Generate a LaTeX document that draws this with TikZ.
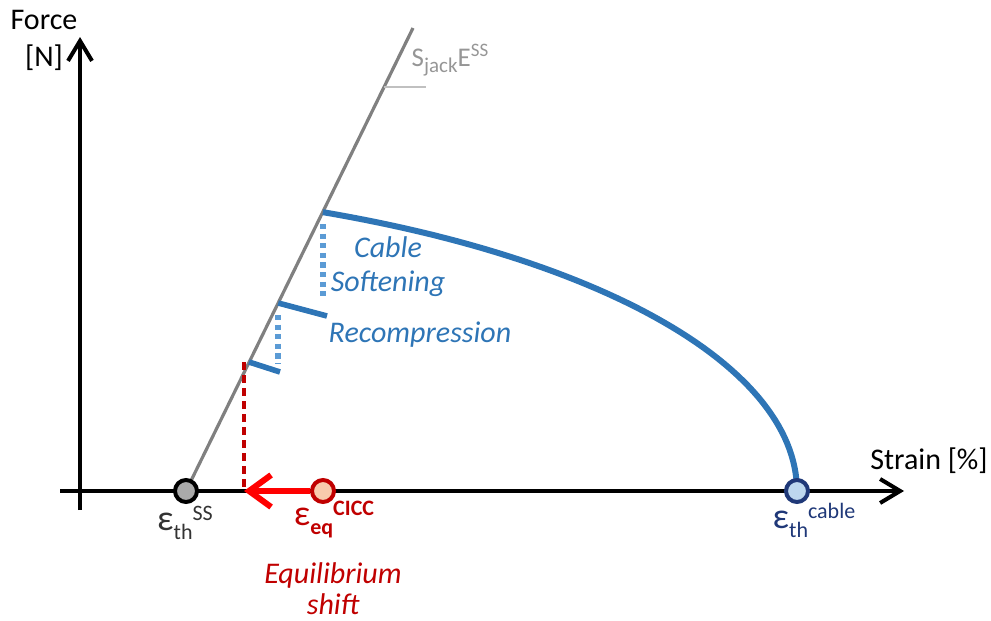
\documentclass[tikz,border=0pt]{standalone}
\usepackage{fontspec}
\setmainfont{Carlito}
\usetikzlibrary{arrows.meta,positioning,calc}
\definecolor{cableblue}{RGB}{46,117,182}
\definecolor{softblue}{RGB}{91,155,213}
\definecolor{ptblue}{RGB}{189,215,238}
\definecolor{cablenavy}{RGB}{31,56,120}
\definecolor{eqred}{RGB}{192,0,0}
\definecolor{eqfill}{RGB}{248,203,173}
\definecolor{slopegrey}{RGB}{128,128,128}
\definecolor{lblgrey}{RGB}{150,150,150}
\definecolor{ptgrey}{RGB}{170,170,170}

\newcommand{\epsmark}[2]{{\fontsize{18}{18}\selectfont ε}\raisebox{-4.5pt}{\fontsize{11}{11}\selectfont #1}\raisebox{5pt}{\fontsize{11}{11}\selectfont #2}}

\begin{document}
\begin{tikzpicture}[x=0.5pt, y=-0.5pt,
    axis/.style={line width=2pt, -{Straight Barb[length=10pt, width=12pt]}},
    slope/.style={slopegrey, line width=1.6pt},
    cable/.style={cableblue, line width=3pt},
    stepline/.style={cableblue, line width=2.8pt},
    soft/.style={softblue, line width=2.8pt, dash pattern=on 2.6pt off 2.2pt},
    shiftdash/.style={eqred, line width=1.6pt, dash pattern=on 4pt off 2.5pt},
    shiftarr/.style={red, line width=3pt,
                     -{Straight Barb[length=11pt, width=16pt]}},
    pt/.style={circle, inner sep=0pt, minimum size=11pt, line width=2pt},
    txt/.style={font=\fontsize{15}{18}\selectfont},
  ]
  \useasboundingbox (0,0) rectangle (991,621);

  % Achsen
  \draw[axis] (80,510) -- (80,37);
  \draw[axis] (60,491) -- (904,491);
  \node[txt, align=center, font=\fontsize{15}{18.5}\selectfont] (force) at (44,40) {Force\\{[N]}};
  \node[txt] (strain) at (929,461) {Strain [\%]};

  % Punkte auf der Achse
  \coordinate (ssp) at (186,491);
  \coordinate (eqp) at (323,491);
  \coordinate (cbp) at (797,491);
  \coordinate (shiftpt) at (244,491);

  % Steifigkeit
  \coordinate (top) at (413,28);
  \coordinate (tk) at (384,87);
  \draw[slope] (ssp) -- (top);
  \draw[slopegrey!50, line width=1pt] (tk) -- (426,87);
  \node[txt, text=lblgrey, font=\fontsize{13.5}{15}\selectfont] (stiff) at (450,60)
    {S\raisebox{-3pt}{\fontsize{10.5}{10}\selectfont jack}E\raisebox{5pt}{\fontsize{9.5}{9}\selectfont SS}};

  % Kabelkurve
  \coordinate (c1) at (322.8,212);
  \coordinate (c2) at (278.2,303);
  \coordinate (c3) at (249,362);
  \coordinate (r2) at (327,316);
  \coordinate (r3) at (280,372);
  \draw[cable] plot[domain=66.1:0, samples=60] ({797*cos(\x)}, {491-305*sin(\x)});

  % Stufen
  \draw[stepline] (c2) -- (r2);
  \draw[stepline] (c3) -- (r3);
  \draw[soft, shorten <=6pt, shorten >=8pt] (c1) -- (c1 |- r2);
  \draw[soft, shorten <=6pt, shorten >=4pt] (c2) -- (c2 |- r3);
  \draw[shiftdash] (244,362) -- (shiftpt);

  % Kreise
  \node[pt, draw=black, fill=ptgrey] (ss) at (ssp) {};
  \node[pt, draw=eqred, fill=eqfill] (eq) at (eqp) {};
  \node[pt, draw=cablenavy, fill=ptblue] (cb) at (cbp) {};
  \draw[shiftarr] (eq) -- (shiftpt);

  % Beschriftungen
  \node[txt, text=black!80] (sslbl) at (185,523) {\epsmark{th}{SS}};
  \node[txt, text=eqred] (eqlbl) at (334,520) {\epsmark{\bfseries eq}{\bfseries CICC}};
  \node[txt, text=cablenavy] (cblbl) at (814,520) {\epsmark{th}{cable}};
  \node[txt, text=eqred, align=center, inner sep=0pt,
        font=\fontsize{15}{15.5}\selectfont\itshape]
    (shift) at (333,589) {Equilibrium\\shift};
  \node[txt, text=cableblue, align=center, font=\fontsize{15}{17}\selectfont\itshape]
    (soften) at (388,267) {Cable\\Softening};
  \node[txt, text=cableblue, font=\fontsize{15}{17}\selectfont\itshape]
    (recomp) at (420,335) {Recompression};
\end{tikzpicture}
\end{document}
